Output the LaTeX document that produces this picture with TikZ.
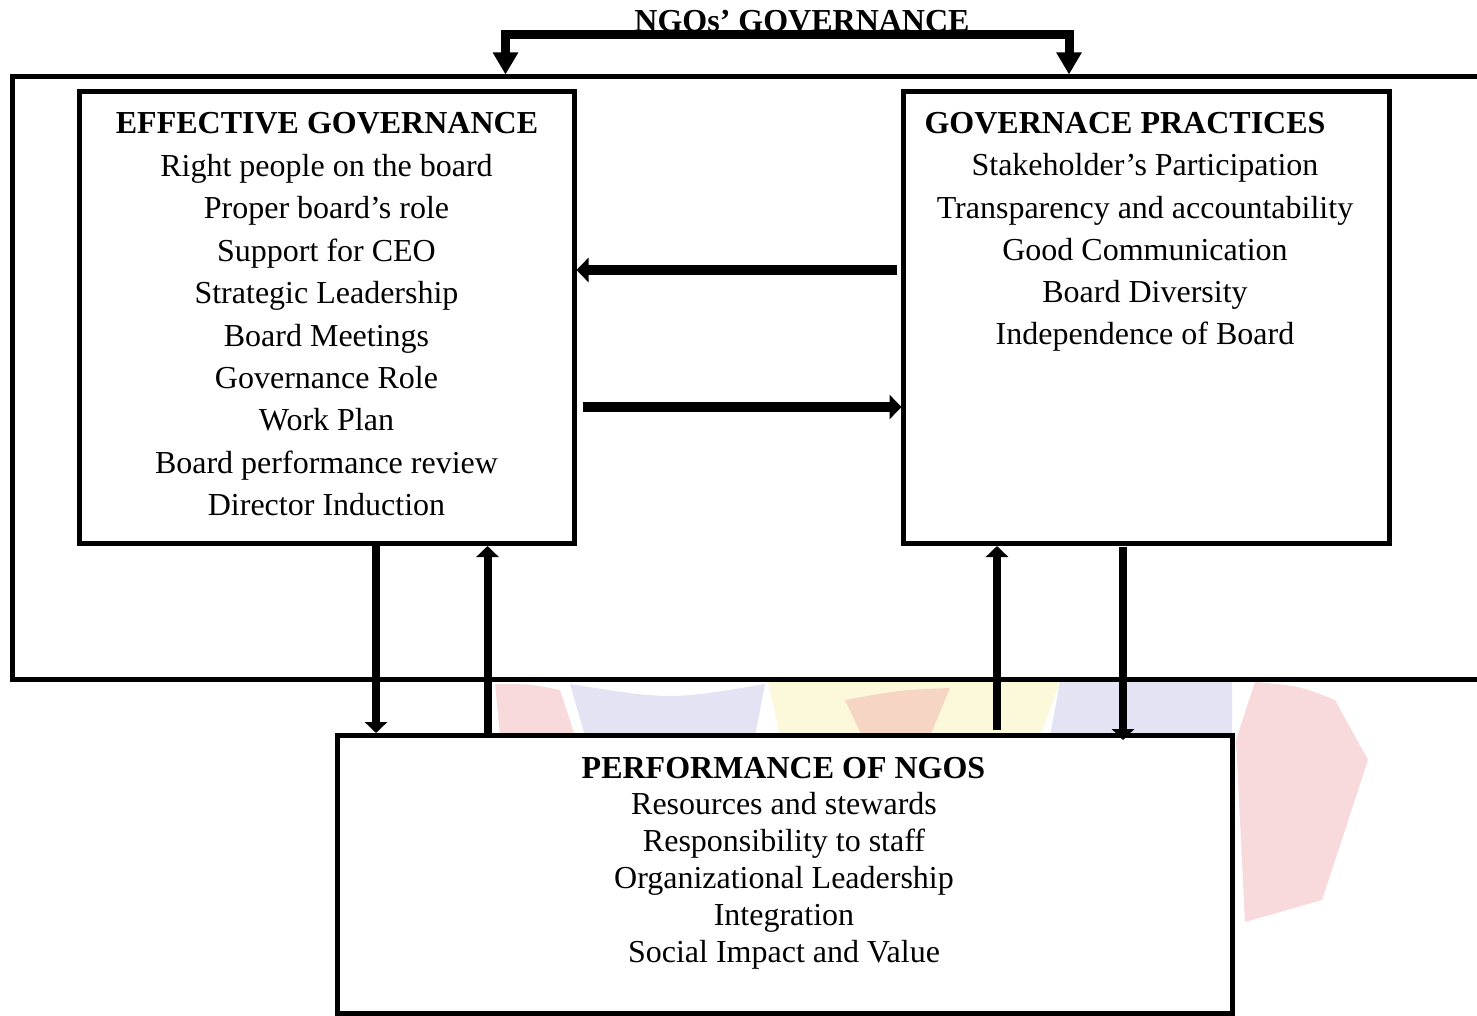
\documentclass[tikz,border=0pt]{standalone}
\usepackage{fontspec}
\setmainfont{Liberation Serif}
\usetikzlibrary{arrows.meta}

\definecolor{wmred}{RGB}{236,150,160}
\definecolor{wmblue}{RGB}{175,175,222}
\definecolor{wmyellow}{RGB}{248,236,150}

\tikzset{
  box/.style={draw=black, line width=5pt, fill=white, rectangle, inner sep=0pt},
  frameline/.style={draw=black, line width=5pt},
  txt/.style={anchor=base, inner sep=0pt, font=\fontsize{32}{38}\selectfont},
  head/.style={txt, font=\fontsize{32}{38}\selectfont\bfseries},
  bracketarrow/.style={line width=9pt, miter limit=10,
    {Triangle[length=22pt,width=24pt]}-{Triangle[length=22pt,width=24pt]}},
  harrow/.style={line width=10pt, -{Triangle[length=12pt,width=24pt]}},
  varrow/.style={line width=8pt, -{Triangle[length=11pt,width=22pt]}},
  wm/.style={fill opacity=0.35, draw=none}
}

\begin{document}
\begin{tikzpicture}[x=1pt, y=-1pt]
  \clip (0,0) rectangle (1477,1016);
  \fill[white] (0,0) rectangle (1477,1016);

  % faint crest in the background
  \fill[wm, wmred]    (495,684) .. controls (530,684) .. (560,690) -- (575,736) -- (500,736) -- cycle;
  \fill[wm, wmblue]   (570,684) .. controls (670,700) .. (765,684) -- (755,736) -- (585,736) -- cycle;
  \fill[wm, wmyellow] (768,682) -- (1060,682) -- (1040,736) -- (780,736) -- cycle;
  \fill[wm, wmred]    (845,700) .. controls (900,690) .. (950,688) -- (930,736) -- (862,736) -- cycle;
  \fill[wm, wmblue]   (1060,682) -- (1232,682) -- (1232,736) -- (1050,736) -- cycle;
  \fill[wm, wmred]    (1255,682) .. controls (1300,686) .. (1335,700) -- (1368,760)
                      .. controls (1345,830) .. (1322,900) -- (1245,922) -- (1236,740) -- cycle;

  % outer frame, open on the right-hand side
  \node[frameline, rectangle, inner sep=0pt, minimum width=1483pt, minimum height=602.5pt]
    (frame) at (753.5,378.25) {};

  % the three boxes
  \node[box, minimum width=495pt, minimum height=451.5pt]   (eff)    at (326.5,317.75) {};
  \node[box, minimum width=486.5pt, minimum height=451.5pt] (pract)  at (1146.25,317.75) {};
  \node[box, minimum width=895pt, minimum height=277.5pt]   (perf)   at (785,874.25) {};

  % title and its bracket
  \node[head] (title) at (802,32) {NGOs’ GOVERNANCE};
  \draw[bracketarrow] ([xshift=-248pt]frame.north) -- ++(0,-39.5) -- ++(563.5,0) -- ++(0,39.5);

  % effective governance
  \node[head] (effh) at (327,134) {EFFECTIVE GOVERNANCE};
  \foreach \t [count=\i] in {Right people on the board, Proper board’s role, Support for CEO,
      Strategic Leadership, Board Meetings, Governance Role, Work Plan,
      Board performance review, Director Induction}
    \node[txt] (eff\i) at (326.5,{134+\i*42.4}) {\t};

  % governance practices
  \node[head] (practh) at (1125,134) {GOVERNACE PRACTICES};
  \foreach \t [count=\i] in {Stakeholder’s Participation, Transparency and accountability,
      Good Communication, Board Diversity, Independence of Board}
    \node[txt] (pract\i) at (1145,{176+(\i-1)*42.2}) {\t};

  % performance of NGOs
  \node[head] (perfh) at (783.5,778) {PERFORMANCE OF NGOS};
  \foreach \t [count=\i] in {Resources and stewards, Responsibility to staff,
      Organizational Leadership, Integration, Social Impact and Value}
    \node[txt] (perf\i) at (784,{814+(\i-1)*37}) {\t};

  % links between the two governance boxes
  \draw[harrow] ([xshift=-3.5pt,yshift=47.75pt]pract.west) -- ([yshift=47.75pt]eff.east);
  \draw[harrow] ([xshift=6pt,yshift=-89.25pt]eff.east) -- ([xshift=1pt,yshift=-89.25pt]pract.west);

  % links to and from performance
  \draw[varrow] ([xshift=49.5pt]eff.south) -- ([xshift=-409pt]perf.north);
  \draw[varrow] ([xshift=-297.5pt]perf.north) -- ([xshift=161pt]eff.south);
  \draw[varrow] ([xshift=212pt,yshift=3pt]perf.north) -- ([xshift=-149.25pt]pract.south);
  \draw[varrow] ([xshift=-23.25pt,yshift=-1pt]pract.south) -- ([xshift=338pt,yshift=-7pt]perf.north);
\end{tikzpicture}
\end{document}
